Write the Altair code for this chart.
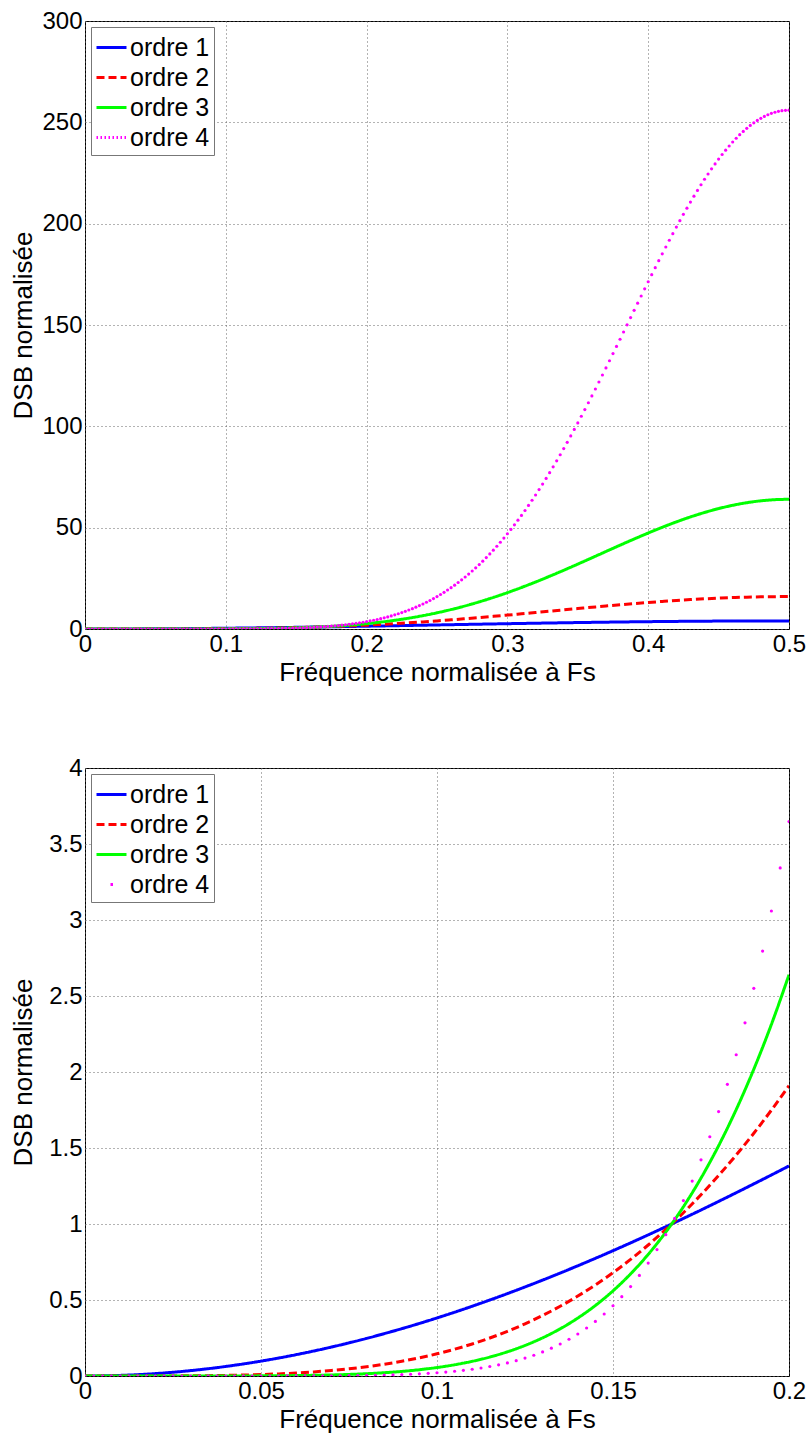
import altair as alt
import pandas as pd

# ---------------- data ----------------
F_LINE = [0.0, 0.005, 0.01, 0.015, 0.02, 0.025, 0.03, 0.035, 0.04, 0.045,
          0.05, 0.055, 0.06, 0.065, 0.07, 0.075, 0.08, 0.085, 0.09, 0.095,
          0.1, 0.105, 0.11, 0.115, 0.12, 0.125, 0.13, 0.135, 0.14, 0.145,
          0.15, 0.155, 0.16, 0.165, 0.17, 0.175, 0.18, 0.185, 0.19, 0.195,
          0.2, 0.21, 0.22, 0.23, 0.24, 0.25, 0.26, 0.27, 0.28, 0.29,
          0.3, 0.31, 0.32, 0.33, 0.34, 0.35, 0.36, 0.37, 0.38, 0.39,
          0.4, 0.41, 0.42, 0.43, 0.44, 0.45, 0.46, 0.47, 0.48, 0.49, 0.5]

ORDRE1 = [0.0, 0.00099, 0.00395, 0.00888, 0.01577, 0.02462, 0.03543, 0.04817, 0.06283, 0.07941,
          0.09789, 0.11824, 0.14045, 0.16449, 0.19035, 0.21799, 0.24739, 0.27852, 0.31134, 0.34584,
          0.38197, 0.41969, 0.45897, 0.49978, 0.54206, 0.58579, 0.63091, 0.67738, 0.72515, 0.77419,
          0.82443, 0.87583, 0.92835, 0.98192, 1.03649, 1.09202, 1.14844, 1.20571, 1.26375, 1.32252,
          1.38197, 1.50262, 1.62524, 1.74934, 1.87442, 2.0, 2.12559, 2.25067, 2.37476, 2.49738,
          2.61803, 2.73625, 2.85156, 2.96351, 3.07166, 3.17557, 3.27485, 3.3691, 3.45793, 3.54103,
          3.61803, 3.68866, 3.75261, 3.80966, 3.85955, 3.90211, 3.93717, 3.96458, 3.98423, 3.99606, 4.0]

ORDRE2 = [0.0, 0.000001, 0.000016, 0.000079, 0.000249, 0.000606, 0.001255, 0.00232, 0.003948, 0.006306,
          0.009582, 0.01398, 0.019725, 0.027057, 0.036231, 0.047518, 0.0612, 0.077571, 0.096935, 0.119604,
          0.145898, 0.176139, 0.210657, 0.249778, 0.293833, 0.343144, 0.398042, 0.458837, 0.525844, 0.599362,
          0.679682, 0.767085, 0.86183, 0.964163, 1.074314, 1.19251, 1.318919, 1.453725, 1.597061, 1.749067,
          1.909827, 2.257867, 2.641392, 3.060176, 3.51345, 4.0, 4.518112, 5.065497, 5.639485, 6.236907,
          6.854102, 7.487075, 8.131394, 8.78238, 9.435071, 10.084251, 10.724629, 11.350801, 11.957294, 12.538879,
          13.09017, 13.606213, 14.082097, 14.513479, 14.896142, 15.226478, 15.501292, 15.717863, 15.874105, 15.968464, 16.0]

ORDRE3 = [0.0, 0.0, 0.0, 0.000001, 0.000004, 0.000015, 0.000044, 0.000112, 0.000248, 0.000501,
          0.000938, 0.001653, 0.00277, 0.004451, 0.006897, 0.010358, 0.01514, 0.021605, 0.03018, 0.041364,
          0.055728, 0.073924, 0.096686, 0.124834, 0.159277, 0.201009, 0.251127, 0.310805, 0.381316, 0.464017,
          0.560349, 0.671838, 0.800078, 0.946729, 1.113516, 1.302246, 1.514702, 1.752763, 2.018284, 2.313181,
          2.639318, 3.392716, 4.292885, 5.353277, 6.585681, 8.0, 9.603631, 11.400742, 13.392423, 15.575927,
          17.944272, 20.486524, 23.187158, 26.026653, 28.981293, 32.023255, 35.12153, 38.241927, 41.34751, 44.400522,
          47.36068, 50.188694, 52.844646, 55.291362, 57.492435, 59.415422, 61.031191, 62.314662, 63.246117, 63.810876, 64.0]

F_DOTS = [0.0, 0.0025, 0.005, 0.0075, 0.01, 0.0125, 0.015, 0.0175, 0.02, 0.0225,
          0.025, 0.0275, 0.03, 0.0325, 0.035, 0.0375, 0.04, 0.0425, 0.045, 0.0475,
          0.05, 0.0525, 0.055, 0.0575, 0.06, 0.0625, 0.065, 0.0675, 0.07, 0.0725,
          0.075, 0.0775, 0.08, 0.0825, 0.085, 0.0875, 0.09, 0.0925, 0.095, 0.0975,
          0.1, 0.1025, 0.105, 0.1075, 0.11, 0.1125, 0.115, 0.1175, 0.12, 0.1225,
          0.125, 0.1275, 0.13, 0.1325, 0.135, 0.1375, 0.14, 0.1425, 0.145, 0.1475,
          0.15, 0.1525, 0.155, 0.1575, 0.16, 0.1625, 0.165, 0.1675, 0.17, 0.1725,
          0.175, 0.1775, 0.18, 0.1825, 0.185, 0.1875, 0.19, 0.1925, 0.195, 0.1975,
          0.2, 0.2025, 0.205, 0.2075, 0.21, 0.2125, 0.215, 0.2175, 0.22, 0.2225,
          0.225, 0.2275, 0.23, 0.2325, 0.235, 0.2375, 0.24, 0.2425, 0.245, 0.2475,
          0.25, 0.2525, 0.255, 0.2575, 0.26, 0.2625, 0.265, 0.2675, 0.27, 0.2725,
          0.275, 0.2775, 0.28, 0.2825, 0.285, 0.2875, 0.29, 0.2925, 0.295, 0.2975,
          0.3, 0.3025, 0.305, 0.3075, 0.31, 0.3125, 0.315, 0.3175, 0.32, 0.3225,
          0.325, 0.3275, 0.33, 0.3325, 0.335, 0.3375, 0.34, 0.3425, 0.345, 0.3475,
          0.35, 0.3525, 0.355, 0.3575, 0.36, 0.3625, 0.365, 0.3675, 0.37, 0.3725,
          0.375, 0.3775, 0.38, 0.3825, 0.385, 0.3875, 0.39, 0.3925, 0.395, 0.3975,
          0.4, 0.4025, 0.405, 0.4075, 0.41, 0.4125, 0.415, 0.4175, 0.42, 0.4225,
          0.425, 0.4275, 0.43, 0.4325, 0.435, 0.4375, 0.44, 0.4425, 0.445, 0.4475,
          0.45, 0.4525, 0.455, 0.4575, 0.46, 0.4625, 0.465, 0.4675, 0.47, 0.4725,
          0.475, 0.4775, 0.48, 0.4825, 0.485, 0.4875, 0.49, 0.4925, 0.495, 0.4975,
          0.5]

ORDRE4 = [0.0, 0.0, 0.0, 0.0, 0.0, 0.0, 0.0, 0.0, 0.0, 0.0,
          0.0, 0.0, 0.0, 0.0, 0.0, 0.0, 0.0, 0.0, 0.0, 0.0001,
          0.0001, 0.0001, 0.0002, 0.0003, 0.0004, 0.0005, 0.0007, 0.0010, 0.0013, 0.0017,
          0.0023, 0.0029, 0.0037, 0.0048, 0.0060, 0.0075, 0.0094, 0.0116, 0.0143, 0.0175,
          0.0213, 0.0258, 0.0310, 0.0372, 0.0444, 0.0527, 0.0624, 0.0735, 0.0863, 0.1010,
          0.1177, 0.1368, 0.1584, 0.1829, 0.2105, 0.2416, 0.2765, 0.3156, 0.3592, 0.4079,
          0.4620, 0.5220, 0.5884, 0.6618, 0.7428, 0.8318, 0.9296, 1.0368, 1.1542, 1.2823,
          1.4221, 1.5742, 1.7395, 1.9190, 2.1133, 2.3235, 2.5506, 2.7955, 3.0592, 3.3428,
          3.6474, 3.97, 4.32, 4.70, 5.10, 5.52, 5.98, 6.46, 6.98, 7.52,
          8.10, 8.72, 9.36, 10.05, 10.78, 11.54, 12.34, 13.19, 14.08, 15.02,
          16.0, 17.03, 18.11, 19.23, 20.41, 21.64, 22.93, 24.27, 25.66, 27.11,
          28.62, 30.18, 31.80, 33.49, 35.23, 37.03, 38.90, 40.83, 42.81, 44.87,
          46.98, 49.15, 51.39, 53.69, 56.06, 58.48, 60.97, 63.51, 66.12, 68.79,
          71.51, 74.29, 77.13, 80.02, 82.97, 85.97, 89.02, 92.12, 95.27, 98.46,
          101.69, 104.97, 108.28, 111.63, 115.02, 118.43, 121.88, 125.35, 128.84, 132.35,
          135.88, 139.43, 142.98, 146.54, 150.10, 153.66, 157.22, 160.78, 164.32, 167.85,
          171.35, 174.84, 178.30, 181.73, 185.13, 188.49, 191.81, 195.08, 198.31, 201.48,
          204.59, 207.65, 210.64, 213.56, 216.42, 219.19, 221.90, 224.51, 227.05, 229.49,
          231.85, 234.11, 236.27, 238.34, 240.29, 242.14, 243.90, 245.53, 247.05, 248.46,
          249.75, 250.93, 251.99, 252.92, 253.74, 254.43, 254.99, 255.43, 255.75, 255.94,
          256.0]

SERIES = ["ordre 1", "ordre 2", "ordre 3", "ordre 4"]
COLORS = ["#0000FF", "#FF0000", "#00FF00", "#FF00FF"]

X_TICKS_TOP = [0, 0.1, 0.2, 0.3, 0.4, 0.5]
Y_TICKS_TOP = [0, 50, 100, 150, 200, 250, 300]
X_TICKS_BOT = [0, 0.05, 0.1, 0.15, 0.2]
Y_TICKS_BOT = [0, 0.5, 1, 1.5, 2, 2.5, 3, 3.5, 4]

X_TITLE = "Fréquence normalisée à Fs"
Y_TITLE = "DSB normalisée"

# ---------------- tables ----------------
n = len(F_LINE)
lines_df = pd.DataFrame({
    "f": F_LINE * 3,
    "v": ORDRE1 + ORDRE2 + ORDRE3,
    "serie": ["ordre 1"] * n + ["ordre 2"] * n + ["ordre 3"] * n,
})
dots_df = pd.DataFrame({"f": F_DOTS, "v": ORDRE4, "serie": ["ordre 4"] * len(F_DOTS)})

FONT = "Liberation Sans"


def panel(xmax, ymax, xticks, yticks, dash4):
    x = alt.X("f:Q",
              scale=alt.Scale(domain=[0, xmax], nice=False, zero=False),
              axis=alt.Axis(values=xticks, format="~r", title=X_TITLE, titlePadding=3))
    y = alt.Y("v:Q",
              scale=alt.Scale(domain=[0, ymax], nice=False),
              axis=alt.Axis(values=yticks, format="~r", title=Y_TITLE,
                            minExtent=43, maxExtent=43))
    leg = alt.Legend(title=None, orient="top-left", offset=6)
    line = (
        alt.Chart(lines_df)
        .transform_filter(alt.datum.f <= xmax + 1e-9)
        .mark_line(strokeWidth=3, interpolate="monotone", clip=True)
        .encode(
            x=x, y=y,
            color=alt.Color("serie:N", scale=alt.Scale(domain=SERIES, range=COLORS), legend=leg),
            strokeDash=alt.StrokeDash(
                "serie:N",
                scale=alt.Scale(domain=SERIES, range=[[1, 0], [8, 4], [1, 0], dash4]),
                legend=leg),
        )
    )
    pts = (
        alt.Chart(dots_df)
        .transform_filter(alt.datum.f <= xmax + 1e-9)
        .mark_circle(size=10, opacity=1, color="#FF00FF", clip=True)
        .encode(x=x, y=y)
    )
    return alt.layer(line, pts).properties(width=704, height=608)


top = panel(0.5, 300, X_TICKS_TOP, Y_TICKS_TOP, [1.5, 2.5])
bottom = panel(0.2, 4, X_TICKS_BOT, Y_TICKS_BOT, [0, 14, 2.5, 40])

chart = (
    alt.vconcat(top, bottom, spacing=69)
    .resolve_scale(color="independent", strokeDash="independent", x="independent", y="independent")
    .resolve_legend(color="independent", strokeDash="independent")
    .properties(padding={"left": 9, "top": 8, "right": 0, "bottom": 0})
    .configure_view(stroke="black", strokeWidth=1)
    .configure_axis(
        labelFont=FONT, labelFontSize=24, labelColor="black",
        titleFont=FONT, titleFontSize=26, titleFontWeight="normal", titleColor="black",
        grid=True, gridColor="#666666", gridDash=[1, 3], gridWidth=1,
        ticks=False, domain=False, labelPadding=3, titlePadding=6,
        labelOverlap=False, labelFlush=False,
    )
    .configure_legend(
        labelFont=FONT, labelFontSize=25, labelColor="black",
        fillColor="white", strokeColor="#777777", padding=4,
        symbolType="stroke", symbolSize=900, symbolStrokeWidth=3,
        rowPadding=0, labelOffset=2, cornerRadius=0,
    )
)

chart.save("out.html", embed_options={"renderer": "svg", "actions": False})
